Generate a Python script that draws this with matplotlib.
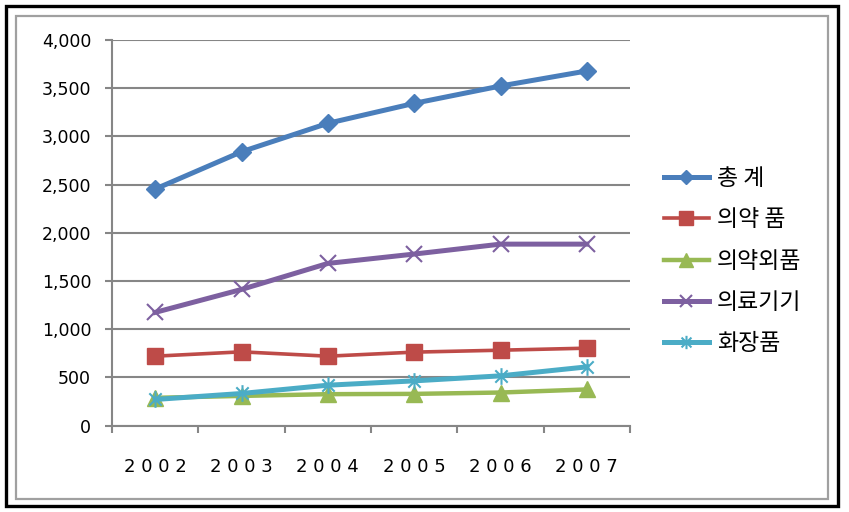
import matplotlib.pyplot as plt
from matplotlib.path import Path
from matplotlib.patches import Rectangle

years = ['2002', '2003', '2004', '2005', '2006', '2007']
series_names = ['총 계', '의약 품', '의약외품', '의료기기', '화장품']

total = [2454, 2841, 3136, 3343, 3523, 3679]
medicine = [721, 766, 721, 763, 783, 804]
quasi_drug = [289, 309, 327, 330, 344, 376]
medical_device = [1175, 1413, 1683, 1780, 1883, 1883]
cosmetics = [272, 334, 420, 465, 517, 610]

y_ticks = [0, 500, 1000, 1500, 2000, 2500, 3000, 3500, 4000]

# excel style asterisk: x plus a vertical bar
asterisk = Path(
    [(-1, -1), (1, 1), (-1, 1), (1, -1), (0, -1.35), (0, 1.35)],
    [Path.MOVETO, Path.LINETO, Path.MOVETO, Path.LINETO, Path.MOVETO, Path.LINETO],
)


def main():
    plt.rcParams['font.family'] = ['Noto Sans CJK KR', 'DejaVu Sans']

    fig = plt.figure(figsize=(8.49, 5.12), dpi=100)
    ax = fig.add_axes([112 / 849, 86.3 / 512, 518 / 849, 385.7 / 512])

    x = range(len(years))
    ax.plot(x, total, color='#4A7EBB', lw=3.6, marker='D', ms=9, label=series_names[0], zorder=5)
    ax.plot(x, medicine, color='#BE4B48', lw=2.6, marker='s', ms=12, label=series_names[1], zorder=4)
    ax.plot(x, quasi_drug, color='#98B954', lw=3.2, marker='^', ms=12, label=series_names[2], zorder=3)
    ax.plot(x, medical_device, color='#7D60A0', lw=3.6, marker='x', ms=11, mew=1.5,
            label=series_names[3], zorder=4)
    ax.plot(x, cosmetics, color='#4BACC6', lw=3.6, marker=asterisk, ms=12, mew=1.5,
            label=series_names[4], zorder=4)

    ax.set_xlim(-0.5, len(years) - 0.5)
    ax.set_ylim(0, 4000)
    ax.set_yticks(y_ticks)
    ax.set_yticklabels([f'{v:,}' for v in y_ticks], family='DejaVu Sans', fontsize=12.5)

    ax.set_xticks([i - 0.5 for i in range(len(years) + 1)])
    ax.set_xticklabels([])
    ax.set_xticks(list(x), minor=True)
    ax.set_xticklabels([' '.join(y) for y in years], minor=True, family='DejaVu Sans', fontsize=13)
    ax.tick_params(axis='x', which='minor', length=0, pad=23)
    ax.tick_params(axis='x', which='major', length=5, width=1.5, color='#868686')
    ax.tick_params(axis='y', length=5, width=1.5, color='#868686', pad=10)

    ax.grid(axis='y', color='#868686', lw=1.5)
    ax.set_axisbelow(True)
    for side in ['top', 'right']:
        ax.spines[side].set_visible(False)
    for side in ['left', 'bottom']:
        ax.spines[side].set_color('#868686')
        ax.spines[side].set_linewidth(1.5)

    ax.legend(loc='upper left', bbox_to_anchor=(664 / 849, 1 - 167 / 512),
              bbox_transform=fig.transFigure, frameon=False,
              fontsize=16.5, handlelength=1.95, handletextpad=0.35, labelspacing=0.8,
              borderpad=0, borderaxespad=0, markerscale=0.8)

    # outer black frame and inner grey chart border
    fig.patches.append(Rectangle((6 / 849, 6 / 512), 832 / 849, 500 / 512, transform=fig.transFigure,
                                 fill=False, edgecolor='black', lw=2.4))
    fig.patches.append(Rectangle((16 / 849, 13 / 512), 812 / 849, 483 / 512, transform=fig.transFigure,
                                 fill=False, edgecolor='#A0A0A0', lw=1.6))

    fig.savefig('out.png', dpi=100)


if __name__ == '__main__':
    main()
